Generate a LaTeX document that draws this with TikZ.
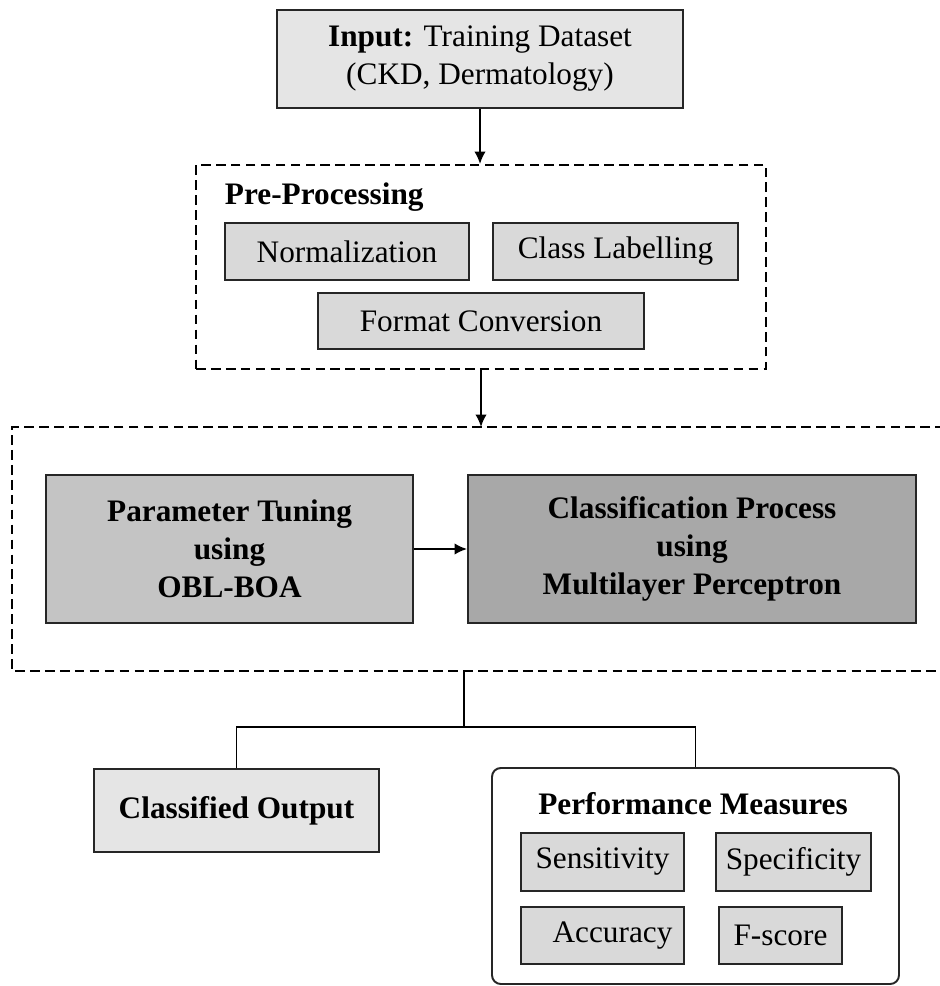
\documentclass[tikz,border=0pt]{standalone}
\usepackage{fontspec}
\setmainfont{Liberation Serif}
\usetikzlibrary{positioning,arrows.meta}
\begin{document}
\begin{tikzpicture}
[
 line width=1.1pt,
 >={Latex[length=2.5mm,width=2.3mm]},
 align=center,
 inner sep=1mm,
 font=\fontsize{17.8}{21.6}\selectfont,
 bold/.style={font=\fontsize{17.8}{21.6}\selectfont\bfseries},
 box/.style={draw=black!85,rectangle,fill=gray!20},
 sub/.style={draw=black!85,rectangle,fill=gray!30},
 dashedbox/.style={draw=black,rectangle,dash pattern=on 5.5pt off 3pt}
]
\useasboundingbox (0,0) rectangle (18.78,-19.72);
% input and pre-processing
\node (input) [box,minimum width=8.12cm,minimum height=1.96cm] at (9.6,-1.18) {\textbf{Input:} Training Dataset\\(CKD, Dermatology)};
\node (pre) [dashedbox,minimum width=11.4cm,minimum height=4.08cm] at (9.62,-5.34) {};
\node (pre-title) [bold,anchor=west] at (4.38,-3.94) {Pre-Processing};
\node (norm) [sub,minimum width=4.88cm,minimum height=1.14cm] at (6.94,-5.03) {Normalization};
\node (label) [sub,minimum width=4.9cm,minimum height=1.14cm] at (12.31,-5.03) {Class Labelling};
\node (format) [sub,minimum width=6.52cm,minimum height=1.12cm] at (9.62,-6.42) {Format Conversion};
\draw[->] (input.south) -- (input.south |- pre.north);
% classification stage
\coordinate (stage-nw) at (0.24,-8.54);
\coordinate (stage-sw) at (0.24,-13.42);
\coordinate (stage-ne) at (18.9,-8.54);
\coordinate (stage-se) at (18.9,-13.42);
\draw[dashedbox] (stage-ne) -- (stage-nw) -- (stage-sw) -- (stage-se);
\draw[->] (pre.south) -- (pre.south |- stage-nw);
\node (tuning) [box,bold,fill=gray!46,minimum width=7.34cm,minimum height=2.96cm] at (4.59,-10.98) {Parameter Tuning\\using\\OBL-BOA};
\node (process) [box,bold,fill=gray!68,minimum width=8.96cm,minimum height=2.96cm] at (13.84,-10.98) {Classification Process\\using\\Multilayer Perceptron};
\draw[->] (tuning) -- (process);
% outputs
\node (output) [box,bold,fill=gray!20,minimum width=5.7cm,minimum height=1.66cm] at (4.73,-16.21) {Classified Output};
\node (perf) [draw=black!85,rounded corners=5pt,fill=white,minimum width=8.14cm,minimum height=4.32cm] at (13.91,-17.52) {};
\node (perf-title) [bold] at (13.86,-16.08) {Performance Measures};
\node (sens) [sub,minimum width=3.26cm,minimum height=1.16cm] at (12.05,-17.24) {Sensitivity};
\node (spec) [sub,minimum width=3.1cm,minimum height=1.16cm] at (15.87,-17.24) {Specificity};
\node (acc) [sub,minimum width=3.26cm,minimum height=1.14cm] at (12.05,-18.71) {\hspace*{4mm}Accuracy};
\node (fscore) [sub,minimum width=2.46cm,minimum height=1.14cm] at (15.61,-18.71) {F-score};
\coordinate (stage-out) at (9.28,-13.42);
\coordinate (split) at (9.28,-14.54);
\draw (stage-out) -- (split);
\draw (output.north) |- (split) -| (perf.north);
\end{tikzpicture}
\end{document}
